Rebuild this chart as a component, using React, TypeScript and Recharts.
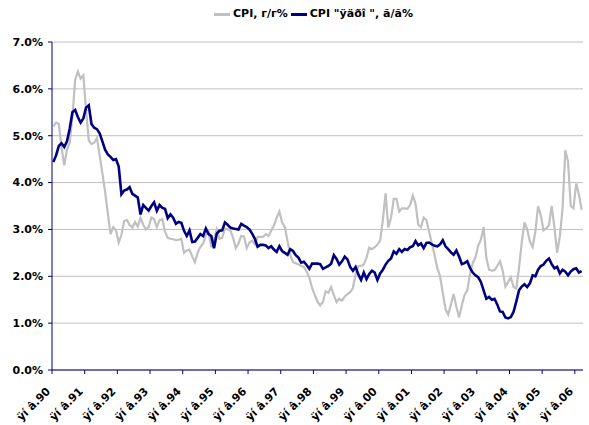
import React from 'react';
import { LineChart, Line, XAxis, YAxis, CartesianGrid } from 'recharts';

const yearLabels = ['ÿí â.90','ÿí â.91','ÿí â.92','ÿí â.93','ÿí â.94','ÿí â.95','ÿí â.96','ÿí â.97','ÿí â.98','ÿí â.99','ÿí â.00','ÿí â.01','ÿí â.02','ÿí â.03','ÿí â.04','ÿí â.05','ÿí â.06'];

const seriesNames = ['CPI, г/г%', 'CPI "ÿäðî ", ã/ã%'];

const cpiYoY = [
  5.20, 5.28, 5.25, 4.75, 4.37, 4.70, 4.85, 5.40, 6.19, 6.37, 6.22, 6.29,
  5.55, 4.90, 4.82, 4.85, 4.95, 4.58, 4.20, 3.80, 3.35, 2.90, 3.05, 2.98,
  2.72, 2.88, 3.18, 3.20, 3.10, 3.04, 3.16, 3.06, 3.25, 3.10, 3.00, 3.05,
  3.25, 3.22, 3.05, 3.20, 3.22, 2.95, 2.82, 2.80, 2.79, 2.77, 2.78, 2.80,
  2.50, 2.55, 2.57, 2.42, 2.30, 2.50, 2.63, 2.70, 2.88, 2.95, 2.62, 2.80,
  3.00, 2.80, 2.82, 3.02, 3.00, 2.98, 2.82, 2.60, 2.70, 2.86, 2.85, 2.60,
  2.72, 2.76, 2.68, 2.84, 2.84, 2.84, 2.90, 2.86, 2.97, 3.08, 3.25, 3.38,
  3.15, 3.05, 2.75, 2.45, 2.30, 2.28, 2.25, 2.22, 2.20, 2.10, 1.97, 1.75,
  1.60, 1.46, 1.38, 1.45, 1.68, 1.65, 1.77, 1.60, 1.45, 1.52, 1.48, 1.57,
  1.62, 1.66, 1.75, 2.05, 2.22, 2.22, 2.25, 2.40, 2.61, 2.58, 2.62, 2.67,
  2.76, 3.20, 3.77, 3.04, 3.25, 3.65, 3.65, 3.38, 3.45, 3.45, 3.44, 3.52,
  3.72, 3.55, 3.10, 3.05, 3.25, 3.20, 2.95, 2.70, 2.45, 2.18, 2.00, 1.65,
  1.30, 1.18, 1.40, 1.62, 1.35, 1.12, 1.38, 1.60, 1.70, 2.05, 2.28, 2.40,
  2.65, 2.78, 3.05, 2.40, 2.14, 2.12, 2.13, 2.22, 2.32, 2.12, 1.78, 1.88,
  1.98, 1.77, 1.74, 2.18, 2.72, 3.15, 3.00, 2.74, 2.62, 2.95, 3.50, 3.30,
  2.98, 3.02, 3.09, 3.50, 3.05, 2.50, 2.85, 3.45, 4.69, 4.45, 3.50, 3.45,
  3.98, 3.75, 3.42,
];

const cpiCore = [
  4.44, 4.58, 4.78, 4.84, 4.76, 4.88, 5.15, 5.50, 5.55, 5.40, 5.28, 5.37,
  5.60, 5.65, 5.25, 5.17, 5.14, 5.05, 4.88, 4.70, 4.60, 4.55, 4.48, 4.50,
  4.34, 3.75, 3.83, 3.85, 3.90, 3.76, 3.72, 3.68, 3.32, 3.52, 3.46, 3.40,
  3.50, 3.58, 3.40, 3.52, 3.46, 3.44, 3.24, 3.32, 3.25, 3.12, 3.16, 3.14,
  2.97, 2.86, 2.98, 2.73, 2.74, 2.82, 2.90, 2.86, 3.02, 2.90, 2.86, 2.60,
  2.91, 2.97, 2.98, 3.15, 3.10, 3.04, 3.02, 3.01, 3.00, 3.12, 3.08, 3.05,
  3.00, 2.91, 2.80, 2.63, 2.67, 2.67, 2.66, 2.60, 2.64, 2.57, 2.52, 2.64,
  2.54, 2.50, 2.46, 2.58, 2.54, 2.45, 2.40, 2.29, 2.31, 2.24, 2.16, 2.27,
  2.27, 2.27, 2.26, 2.16, 2.19, 2.22, 2.27, 2.45, 2.37, 2.25, 2.32, 2.42,
  2.36, 2.20, 2.12, 2.20, 2.04, 1.92, 2.08, 1.94, 2.05, 2.12, 2.08, 1.92,
  2.06, 2.14, 2.25, 2.33, 2.38, 2.53, 2.48, 2.58, 2.52, 2.58, 2.56, 2.62,
  2.64, 2.75, 2.66, 2.70, 2.60, 2.71, 2.72, 2.68, 2.65, 2.64, 2.68, 2.77,
  2.64, 2.58, 2.51, 2.46, 2.55, 2.42, 2.26, 2.28, 2.32, 2.18, 2.08, 2.02,
  1.98, 1.88, 1.70, 1.52, 1.56, 1.50, 1.52, 1.40, 1.25, 1.24, 1.12, 1.10,
  1.13, 1.24, 1.46, 1.70, 1.78, 1.83, 1.77, 1.85, 2.02, 2.00, 2.14, 2.22,
  2.25, 2.33, 2.38, 2.26, 2.17, 2.20, 2.06, 2.14, 2.10, 2.02, 2.10, 2.15,
  2.17, 2.08, 2.11,
];

const yTicks = [0, 1, 2, 3, 4, 5, 6, 7];
const monthCount = cpiYoY.length;
const xTicks = yearLabels.map((_, i) => i * 12);

const data = cpiYoY.map((v, i) => ({ x: i + 0.5, yoy: v, core: cpiCore[i] }));

const FONT = '"DejaVu Sans", Verdana, sans-serif';
const NAVY = '#000080';
const GRAY = '#c0c0c0';

const XTick = (props: any) => {
  const { x, y, payload } = props;
  const label = yearLabels[Math.round(payload.value / 12)];
  return (
    <g transform={`translate(${x - 1},${y + 16}) rotate(-45)`}>
      <text x={0} y={0} textAnchor="end" fontFamily={FONT} fontWeight="bold" fontSize={11} fill="#000">
        {label}
      </text>
    </g>
  );
};

const LegendBox = () => (
  <div style={{ position: 'absolute', top: 7, left: 214, display: 'flex', alignItems: 'center', fontFamily: FONT, fontWeight: 'bold', fontSize: 11, lineHeight: '14px', color: '#000', whiteSpace: 'nowrap' }}>
    <span style={{ display: 'inline-block', width: 16, height: 3, background: GRAY, marginRight: 3 }} />
    <span style={{ marginRight: 3 }}>{seriesNames[0]}</span>
    <span style={{ display: 'inline-block', width: 16, height: 3, background: NAVY, marginRight: 3 }} />
    <span>{seriesNames[1]}</span>
  </div>
);

export default function App() {
  return (
    <div style={{ position: 'absolute', left: 0, top: 0, width: 589, height: 425, background: '#fff' }}>
      <LineChart width={589} height={425} data={data} margin={{ top: 42, right: 6, bottom: 0, left: 0 }}>
        <CartesianGrid horizontal={true} vertical={false} stroke={GRAY} strokeWidth={1} />
        <XAxis
          type="number"
          dataKey="x"
          domain={[0, monthCount]}
          ticks={xTicks}
          interval={0}
          tick={<XTick />}
          tickSize={4}
          height={55}
          axisLine={{ stroke: NAVY, strokeWidth: 1 }}
          tickLine={{ stroke: NAVY }}
          allowDataOverflow
        />
        <YAxis
          width={52}
          domain={[0, 7]}
          ticks={yTicks}
          interval={0}
          tickFormatter={(v: number) => v.toFixed(1) + '%'}
          tick={{ fontFamily: FONT, fontWeight: 'bold', fontSize: 11, fill: '#000' }}
          tickSize={4}
          tickMargin={5}
          axisLine={{ stroke: NAVY, strokeWidth: 1 }}
          tickLine={{ stroke: NAVY }}
        />
        <Line type="linear" dataKey="yoy" name={seriesNames[0]} stroke={GRAY} strokeWidth={2.2} dot={false} isAnimationActive={false} />
        <Line type="linear" dataKey="core" name={seriesNames[1]} stroke={NAVY} strokeWidth={2.6} dot={false} isAnimationActive={false} />
      </LineChart>
      <LegendBox />
    </div>
  );
}
